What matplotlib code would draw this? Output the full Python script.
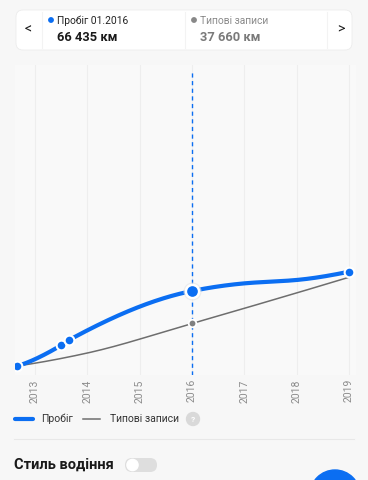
import numpy as np
import matplotlib
matplotlib.use("Agg")
import matplotlib.pyplot as plt
from matplotlib.patches import FancyBboxPatch, Circle

plt.rcParams['font.family'] = ['Roboto', 'DejaVu Sans']

# mileage (km) readings, x in fractional years
mileage_x = [2012.66, 2013.5, 2013.65, 2016.0, 2017.0, 2018.0, 2019.0]
mileage_y = [0, 18300, 23000, 66435, 73200, 76200, 83500]
mileage_marked = [True, True, True, True, False, False, True]

typical_x = [2012.66, 2014.0, 2016.0, 2019.0]
typical_y = [0, 11500, 37660, 78600]
typical_marked = [False, False, True, False]

years = [2013, 2014, 2015, 2016, 2017, 2018, 2019]
selected_year = 2016.0

blue = '#0b6ef2'
gray_line = '#6e6e6e'
bg = '#f7f7f7'


def smooth(x, y, n=300):
    # monotone cubic (Fritsch-Carlson) just for drawing the curve
    x = np.asarray(x, float)
    y = np.asarray(y, float)
    h = np.diff(x)
    d = np.diff(y) / h
    m = np.zeros(len(x))
    m[0] = ((2 * h[0] + h[1]) * d[0] - h[0] * d[1]) / (h[0] + h[1])
    m[-1] = ((2 * h[-1] + h[-2]) * d[-1] - h[-1] * d[-2]) / (h[-1] + h[-2])
    m[0] = max(m[0], 0)
    m[-1] = max(m[-1], 0)
    for k in range(1, len(x) - 1):
        if d[k - 1] * d[k] <= 0:
            m[k] = 0
        else:
            w1 = 2 * h[k] + h[k - 1]
            w2 = h[k] + 2 * h[k - 1]
            m[k] = (w1 + w2) / (w1 / d[k - 1] + w2 / d[k])
    xs = np.linspace(x[0], x[-1], n)
    idx = np.clip(np.searchsorted(x, xs) - 1, 0, len(x) - 2)
    t = (xs - x[idx]) / h[idx]
    h00 = 2 * t**3 - 3 * t**2 + 1
    h10 = t**3 - 2 * t**2 + t
    h01 = -2 * t**3 + 3 * t**2
    h11 = t**3 - t**2
    ys = h00 * y[idx] + h10 * h[idx] * m[idx] + h01 * y[idx + 1] + h11 * h[idx] * m[idx + 1]
    return xs, ys


W, H = 368, 480
fig = plt.figure(figsize=(W / 100, H / 100), dpi=100, facecolor=bg)

# ui layer in pixel coordinates
ui = fig.add_axes([0, 0, 1, 1])
ui.set_xlim(0, W)
ui.set_ylim(H, 0)
ui.axis('off')

# chart area: px 15..356 horizontally, 65..375 vertically
px_per_year = 52.33
km_per_px = 885.8
x0, x1, y0, y1 = 15, 356, 65, 375
ax = fig.add_axes([x0 / W, 1 - y1 / H, (x1 - x0) / W, (y1 - y0) / H])
ax.set_facecolor('#f9f9f9')
ax.set_xlim(2013 + (x0 - 35) / px_per_year, 2013 + (x1 - 35) / px_per_year)
ax.set_ylim((366 - y1) * km_per_px, (366 - y0) * km_per_px)
for s in ax.spines.values():
    s.set_visible(False)
ax.set_yticks([])
ax.set_xticks(years)
ax.set_xticklabels([str(y) for y in years], rotation=90, fontsize=7.5, color='#8c8c8c')
ax.tick_params(axis='x', length=0, pad=3)
for yr in years:
    ax.axvline(yr, color='#eeeeee', lw=0.8, zorder=0)

ax.axvline(selected_year, color=blue, lw=1, ls=(0, (3, 2.5)), zorder=1, ymax=0.98)

tx, ty = smooth(typical_x, typical_y)
ax.plot(tx, ty, color=gray_line, lw=1.1, zorder=2, solid_capstyle='round')
mx, my = smooth(mileage_x, mileage_y)
ax.plot(mx, my, color=blue, lw=3, zorder=3, solid_capstyle='round')

for xv, yv, mk in zip(typical_x, typical_y, typical_marked):
    if mk:
        ax.plot(xv, yv, 'o', ms=5.5, mfc='#808080', mec='white', mew=1.3, zorder=4)
for xv, yv, mk in zip(mileage_x, mileage_y, mileage_marked):
    if not mk:
        continue
    if xv == selected_year:
        ax.plot(xv, yv, 'o', ms=13, mfc='#e4e4e4', mec='none', alpha=0.6, zorder=4)
        ax.plot(xv, yv, 'o', ms=9.5, mfc=blue, mec='white', mew=1.8, zorder=5)
    else:
        ax.plot(xv, yv, 'o', ms=7, mfc=blue, mec='white', mew=1.5, zorder=5)

# top card
ui.add_patch(FancyBboxPatch((16, 10), 336, 40, boxstyle='round,pad=0,rounding_size=7',
                            fc='white', ec='#ececec', lw=0.6, zorder=2))
for xv in [42, 185, 327]:
    ui.plot([xv, xv], [12, 48], color='#f3f3f3', lw=0.8, zorder=3)
ui.text(28, 29.5, '<', fontsize=10, ha='center', va='center', color='#222222', zorder=4)
ui.text(341, 29.5, '>', fontsize=10, ha='center', va='center', color='#222222', zorder=4)
ui.add_patch(Circle((51, 20), 2.2, color=blue, zorder=4))
ui.text(57, 20.5, 'Пробіг 01.2016', fontsize=7.4, va='center', color='#222222', zorder=4)
ui.text(57, 37.5, '66 435 км', fontsize=9.3, fontweight='bold', va='center', color='#1a1a1a', zorder=4)
ui.add_patch(Circle((194, 20), 2.2, color='#888888', zorder=4))
ui.text(200, 20.5, 'Типові записи', fontsize=7.4, va='center', color='#8a8a8a', zorder=4)
ui.text(200, 37.5, '37 660 км', fontsize=9.3, fontweight='bold', va='center', color='#7a7a7a', zorder=4)

# legend
ui.plot([15, 33], [419, 419], color=blue, lw=3, solid_capstyle='round')
ui.text(41, 419, 'Пробіг', fontsize=7.5, va='center', color='#333333')
ui.plot([83, 100], [419, 419], color=gray_line, lw=1.1)
ui.text(110, 419, 'Типові записи', fontsize=7.5, va='center', color='#333333')
ui.add_patch(Circle((193, 419), 6.5, color='#d9d9d9'))
ui.text(193, 419.5, '?', fontsize=6, ha='center', va='center', color='white', fontweight='bold')

ui.plot([14, 354], [439, 439], color='#e8e8e8', lw=0.8)

# driving style row
ui.text(14, 465, 'Стиль водіння', fontsize=10.5, fontweight='bold', va='center', color='#1a1a1a')
ui.add_patch(FancyBboxPatch((125, 458), 32, 14, boxstyle='round,pad=0,rounding_size=7',
                            fc='#dedede', ec='none'))
ui.add_patch(Circle((132.5, 465), 5.6, color='white'))
ui.add_patch(Circle((335, 495), 25, color=blue))

fig.savefig('out.png', dpi=100, facecolor=bg)
